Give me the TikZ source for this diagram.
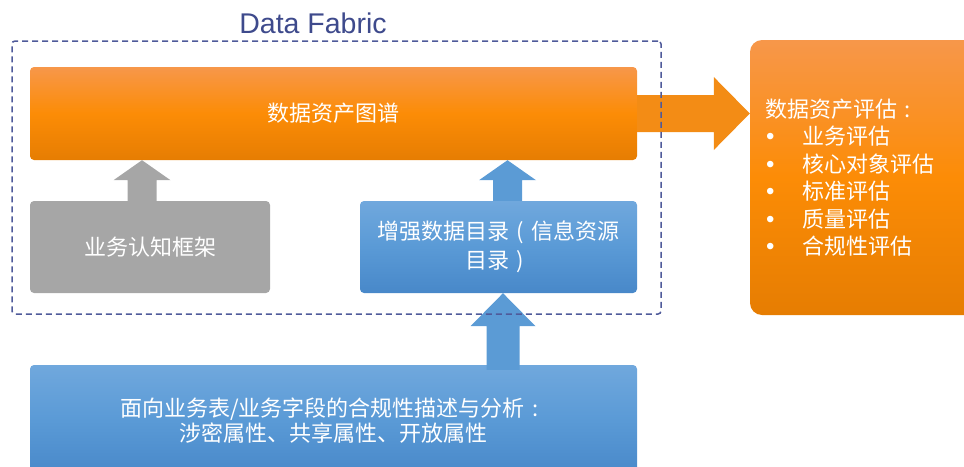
\documentclass[tikz,border=0pt]{standalone}
\usepackage{fontspec}
\newfontfamily\cjk{Noto Sans CJK SC}
\newfontfamily\latinsans{Liberation Sans}
\usetikzlibrary{calc}

\definecolor{orTop}{HTML}{F7974A}
\definecolor{orMid}{HTML}{FC8C06}
\definecolor{orBot}{HTML}{E67D02}
\definecolor{orArrow}{HTML}{F38C15}
\definecolor{blTop}{HTML}{70A8DD}
\definecolor{blMid}{HTML}{5A9AD6}
\definecolor{blBot}{HTML}{4888C9}
\definecolor{blArrow}{HTML}{5B9BD5}
\definecolor{grBox}{HTML}{A6A6A6}
\definecolor{frameBlue}{HTML}{4F5A9A}
\definecolor{titleBlue}{HTML}{3E4A8C}

% centred full-width punctuation
\newcommand\fwcolon{\makebox[1em][c]{:}}
\newcommand\fwlparen{\makebox[1em][c]{(}}
\newcommand\fwrparen{\makebox[1em][c]{)}}
% bullet for list entries
\newcommand\bulletitem{\makebox[37pt][l]{\hspace{1pt}{\latinsans\fontsize{24}{27.5}\selectfont•}}}

% vertical block arrow: style, base point, tip point, half shaft, half head, head length
\newcommand\blockup[6]{%
  \path (#2) coordinate (ba-base) (#3) coordinate (ba-tip);
  \fill[#1] let \p1=(ba-base), \p2=(ba-tip) in
    ({\x1-#4},\y1) -- ({\x1-#4},{\y2-#6}) -- ({\x1-#5},{\y2-#6}) -- (\x1,\y2)
    -- ({\x1+#5},{\y2-#6}) -- ({\x1+#4},{\y2-#6}) -- ({\x1+#4},\y1) -- cycle;}
% horizontal block arrow pointing right
\newcommand\blockright[6]{%
  \path (#2) coordinate (ba-base) (#3) coordinate (ba-tip);
  \fill[#1] let \p1=(ba-base), \p2=(ba-tip) in
    (\x1,{\y1+#4}) -- ({\x2-#6},{\y1+#4}) -- ({\x2-#6},{\y1+#5}) -- (\x2,\y1)
    -- ({\x2-#6},{\y1-#5}) -- ({\x2-#6},{\y1-#4}) -- (\x1,{\y1-#4}) -- cycle;}

\begin{document}
\begin{tikzpicture}[x=1pt,y=-1pt,
  box/.style={rectangle, rounded corners=4pt, inner sep=0pt, text=white,
    font=\cjk\fontsize{22}{29}\selectfont, align=center},
  orangebox/.style={box, top color=orTop, bottom color=orBot, middle color=orMid},
  bluebox/.style={box, top color=blTop, bottom color=blBot, middle color=blMid},
  graybox/.style={box, fill=grBox},
  frame/.style={draw=frameBlue, line width=1.5pt, dash pattern=on 6pt off 4pt,
    rounded corners=3pt, inner sep=0pt},
]
\useasboundingbox (0,0) rectangle (964,466);
\clip (0,0) rectangle (964,466);

% boxes
\node[orangebox, minimum width=607pt, minimum height=93pt] (graph) at (333.5,113.5) {数据资产图谱};
\node[graybox, minimum width=240pt, minimum height=92pt] (cognition) at (150,247) {业务认知框架};
\node[bluebox, minimum width=277pt, minimum height=92pt] (catalog) at (498.5,247)
  {增强数据目录\fwlparen 信息资源\\目录\fwrparen};
\node[bluebox, minimum width=607pt, minimum height=111pt,
  font=\cjk\fontsize{22}{25}\selectfont] (compliance) at (333.5,420.5)
  {面向业务表/业务字段的合规性描述与分析\fwcolon\\涉密属性、共享属性、开放属性};
\node[orangebox, rounded corners=12pt, minimum width=240pt, minimum height=275pt,
  text width=210pt, inner xsep=15pt, align=left,
  font=\cjk\fontsize{22}{27.5}\selectfont] (assess) at (870,177.5)
  {数据资产评估\fwcolon\\
   \bulletitem 业务评估\\
   \bulletitem 核心对象评估\\
   \bulletitem 标准评估\\
   \bulletitem 质量评估\\
   \bulletitem 合规性评估};

% block arrows
\blockup{grBox}{[xshift=-8pt]cognition.north}{graph.south}{14.5pt}{28.5pt}{20pt}
\blockup{blArrow}{[xshift=9pt]catalog.north}{graph.south}{14.5pt}{28.5pt}{20pt}
\blockup{blArrow}{[xshift=169.5pt,yshift=-5pt]compliance.north}{catalog.south}{16.5pt}{32.5pt}{33pt}
\blockright{orArrow}{graph.east}{assess.west |- graph.east}{18.5pt}{36.5pt}{36pt}

% Data Fabric container
\node[frame, minimum width=649pt, minimum height=273pt] (fabric) at (336.5,177.5) {};
\node[font=\latinsans\fontsize{28.5}{31}\selectfont, text=titleBlue, inner sep=0pt]
  (fabrictitle) at (313,23) {Data Fabric};
\end{tikzpicture}
\end{document}
